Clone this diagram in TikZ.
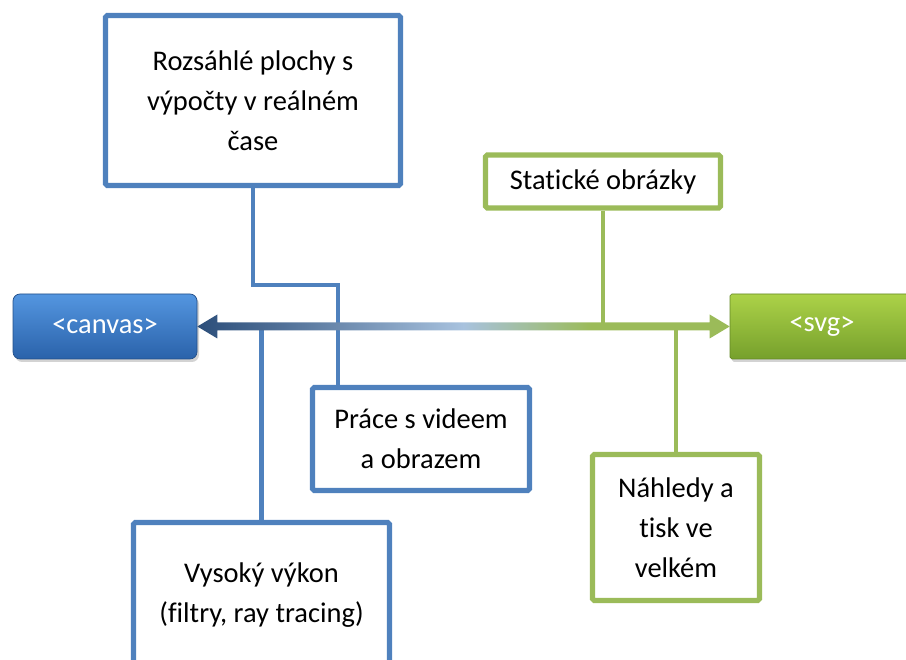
\documentclass[tikz,border=0pt]{standalone}
\usepackage{fontspec}
\setmainfont[Ligatures={NoCommon}]{Carlito}
\usepackage{xcolor}
\usetikzlibrary{shapes,arrows,positioning,calc,shadows}
\definecolor{boxblue}{RGB}{79,129,189}
\definecolor{boxgreen}{RGB}{155,187,89}
\definecolor{canvastop}{RGB}{84,150,224}
\definecolor{canvasbot}{RGB}{42,98,170}
\definecolor{svgtop}{RGB}{172,210,72}
\definecolor{svgbot}{RGB}{118,160,44}
\definecolor{arrowdark}{RGB}{44,78,122}
\definecolor{arrowlight}{RGB}{168,194,222}
\definecolor{arrowgreen}{RGB}{155,187,89}
\pgfdeclarehorizontalshading{arrowfade}{100bp}{color(0bp)=(arrowdark); color(25bp)=(arrowdark); color(33bp)=(arrowdark!70!arrowlight); color(50bp)=(arrowlight); color(62bp)=(arrowgreen); color(100bp)=(arrowgreen)}

\begin{document}
\begin{tikzpicture}[
    txt/.style={font=\fontsize{16.2}{22.8}\selectfont, align=center},
    bluebox/.style={rectangle, draw=boxblue, line width=3pt, fill=white, rounded corners=1pt, txt},
    greenbox/.style={bluebox, draw=boxgreen},
    button/.style={rectangle, rounded corners=4pt, text=white, txt, minimum width=3.68cm, minimum height=1.3cm, drop shadow={opacity=0.35, shadow xshift=0.04cm, shadow yshift=-0.06cm}},
    link/.style={line width=2.5pt}
]
\useasboundingbox (0,0) rectangle (18.12,13.2);

% Canvas / SVG buttons
\node[button, top color=canvastop, bottom color=canvasbot, draw=canvasbot!80!black] (canvas) at (2.1,6.67) {<canvas>};
\node[button, rounded corners=1pt, top color=svgtop, bottom color=svgbot, draw=svgbot!85!black] (svg) at (16.44,6.67) {<svg>};

% Canvas side
\node[bluebox, minimum width=5.9cm, minimum height=3.4cm] (rozs) at (5.06,11.19) {Rozsáhlé plochy s\\výpočty v reálném\\čase};
\node[bluebox, minimum width=4.34cm, minimum height=2.06cm] (prace) at (8.42,4.42) {Práce s videem\\a obrazem};
\node[bluebox, minimum width=5.12cm, minimum height=2.9cm] (vysoky) at (5.23,1.3) {Vysoký výkon\\(filtry, ray tracing)};

% SVG side
\node[greenbox, minimum width=4.7cm, minimum height=1.06cm] (static) at (12.06,9.57) {Statické obrázky};
\node[greenbox, minimum width=3.34cm, minimum height=2.92cm] (nahled) at (13.52,2.65) {Náhledy a\\tisk ve\\velkém};

% Links
\coordinate (bend) at (6.76,7.5);
\draw[link, boxblue] (rozs.south) |- (bend) -- (bend |- prace.north);
\draw[link, boxblue] (vysoky.north) -- (vysoky.north |- canvas.east);
\draw[link, boxgreen] (static.south) -- (static.south |- canvas.east);
\draw[link, boxgreen] (nahled.north) -- (nahled.north |- canvas.east);

% Double arrow
\shade[shading=arrowfade] (canvas.east) -- ++(0.4,0.24) -- ++(0,-0.16)
    -- ($(svg.west)+(-0.4,0.08)$) -- ++(0,0.16) -- (svg.west) -- ++(-0.4,-0.24) -- ++(0,0.16)
    -- ($(canvas.east)+(0.4,-0.08)$) -- ++(0,-0.16) -- cycle;

\end{tikzpicture}
\end{document}
